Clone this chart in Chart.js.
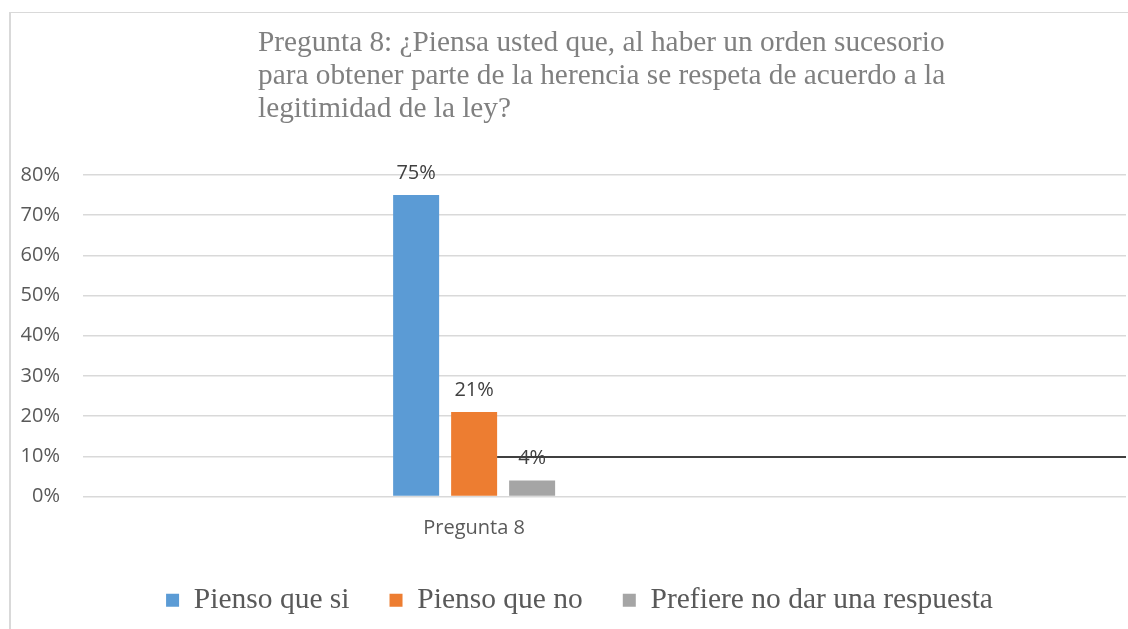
<!DOCTYPE html>
<html>
<head>
<meta charset="utf-8">
<script src="https://cdn.jsdelivr.net/npm/chart.js@4/dist/chart.umd.min.js"></script>
<style>
  html, body { margin: 0; padding: 0; background: #fff; }
  #wrap { position: relative; width: 1128px; height: 629px; overflow: hidden; }
  #frame { position: absolute; left: 9px; top: 12px; right: 0; bottom: -5px;
           border-top: 1px solid #d9d9d9; border-left: 2px solid #d9d9d9; pointer-events: none; }
  #title { position: absolute; left: 258px; top: 25px; font-family: 'Liberation Serif', serif;
           font-size: 29.3px; line-height: 33px; color: #808080; white-space: nowrap; }
  canvas { position: absolute; left: 0; top: 0; }
</style>
</head>
<body>
<div id="wrap">
  <canvas id="chart" width="1128" height="629"></canvas>
  <div id="frame"></div>
  <div id="title">Pregunta 8: ¿Piensa usted que, al haber un orden sucesorio<br>para obtener parte de la herencia se respeta de acuerdo a la<br>legitimidad de la ley?</div>
</div>
<script>
// datos de la pregunta
const categories = ['', 'Pregunta 8', '', ''];
const seriesNames = ['Pienso que si', 'Pienso que no', 'Prefiere no dar una respuesta'];
const siValues = [null, 75, null, null];
const noValues = [null, 21, null, null];
const prefiereValues = [null, 4, null, null];
const yTicks = [0, 10, 20, 30, 40, 50, 60, 70, 80];
const lineValue = 9.8; // linea negra horizontal

const colors = ['#5b9bd5', '#ed7d31', '#a5a5a5'];

// etiquetas encima de las barras + linea negra
const extrasPlugin = {
    id: 'extras',
    afterLayout(chart) {
        // correr un poco la leyenda a la derecha
        chart.legend.left += 6;
        chart.legend.right += 6;
    },
    afterDatasetsDraw(chart) {
        const ctx = chart.ctx;
        const y = chart.scales.y;
        ctx.save();
        // linea desde el borde derecho de la barra naranja
        const orangeBar = chart.getDatasetMeta(1).data[1];
        const ly = y.getPixelForValue(lineValue);
        ctx.strokeStyle = '#404040';
        ctx.lineWidth = 2;
        ctx.beginPath();
        ctx.moveTo(orangeBar.x + orangeBar.width / 2, ly);
        ctx.lineTo(chart.chartArea.right, ly);
        ctx.stroke();

        ctx.font = '20px "Open Sans"';
        ctx.fillStyle = '#404040';
        ctx.textAlign = 'center';
        ctx.textBaseline = 'alphabetic';
        chart.data.datasets.forEach((ds, i) => {
            chart.getDatasetMeta(i).data.forEach((bar, j) => {
                const v = ds.data[j];
                if (v === null) return;
                ctx.fillText(v + '%', bar.x, bar.y - 16);
            });
        });
        ctx.restore();
    }
};

const ctx = document.getElementById('chart').getContext('2d');
new Chart(ctx, {
    type: 'bar',
    data: {
        labels: categories,
        datasets: [
            { label: seriesNames[0], data: siValues, backgroundColor: colors[0] },
            { label: seriesNames[1], data: noValues, backgroundColor: colors[1] },
            { label: seriesNames[2], data: prefiereValues, backgroundColor: colors[2] }
        ]
    },
    options: {
        responsive: false,
        animation: false,
        categoryPercentage: 0.6673,
        barPercentage: 0.7931,
        layout: { padding: { left: 21, right: 2, top: 175, bottom: 4 } },
        plugins: {
            legend: {
                position: 'bottom',
                labels: {
                    boxWidth: 13,
                    boxHeight: 13,
                    padding: 40,
                    color: '#595959',
                    font: { family: 'Liberation Serif', size: 29.5 }
                }
            },
            tooltip: { enabled: false }
        },
        scales: {
            x: {
                grid: { display: false },
                border: { display: false },
                ticks: {
                    color: '#595959',
                    padding: 12,
                    font: { family: 'Open Sans', size: 20 }
                },
                afterFit: s => { s.height = 49; }
            },
            y: {
                min: 0,
                max: 80,
                afterBuildTicks: s => { s.ticks = yTicks.map(v => ({ value: v })); },
                afterFit: s => { s.width = 62; },
                grid: { color: '#d9d9d9', lineWidth: 1.5, drawTicks: false },
                border: { display: false },
                ticks: {
                    color: '#595959',
                    padding: 23,
                    font: { family: 'Open Sans', size: 20 },
                    callback: v => v + '%'
                }
            }
        }
    },
    plugins: [extrasPlugin]
});
</script>
</body>
</html>
